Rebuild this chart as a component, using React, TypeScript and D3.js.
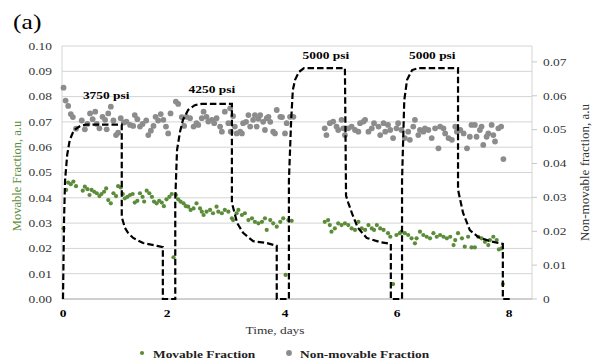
import React from "react";
import * as d3 from "d3";

// pressure step line, [day, psi]
const pressure = [
  [0, 0], [0.02, 1710], [0.04, 2570], [0.08, 3110], [0.13, 3440], [0.21, 3650], [0.33, 3740], [0.44, 3770],
  [1.13, 3770], [1.13, 1770], [1.19, 1540], [1.25, 1430], [1.35, 1320], [1.54, 1210], [1.81, 1150], [1.92, 1120],
  [1.92, 0], [2.14, 0], [2.14, 2140], [2.17, 3220], [2.22, 3610], [2.27, 3870], [2.36, 4090], [2.47, 4190], [2.59, 4220],
  [3.1, 4220], [3.1, 2080], [3.19, 1640], [3.29, 1430], [3.46, 1250], [3.69, 1210], [3.86, 1150],
  [3.86, 0], [4.07, 0], [4.07, 2570], [4.11, 3870], [4.14, 4520], [4.18, 4740], [4.25, 4910], [4.34, 4990],
  [5.07, 4990], [5.09, 2230], [5.13, 2080], [5.2, 1840], [5.3, 1540], [5.46, 1320], [5.7, 1230], [5.89, 1190],
  [5.89, 0], [6.09, 0], [6.09, 2570], [6.13, 4300], [6.18, 4740], [6.27, 4950], [6.38, 4990],
  [7.09, 4990], [7.09, 2360], [7.18, 1860], [7.3, 1490], [7.45, 1340], [7.66, 1250], [7.89, 1190],
  [7.89, 0], [8.05, 0],
];

// movable fraction (left axis), [day, value]
const movable = [
  [0.01, 0.0279], [0.06, 0.0431], [0.1, 0.046], [0.15, 0.0454], [0.2, 0.0464], [0.25, 0.0446], [0.38, 0.0428],
  [0.42, 0.0444], [0.47, 0.0434], [0.51, 0.0411], [0.55, 0.0431], [0.6, 0.0424], [0.65, 0.0418], [0.7, 0.0407],
  [0.74, 0.0415], [0.79, 0.0424], [0.83, 0.0437], [0.87, 0.0391], [0.92, 0.0378], [0.97, 0.0418], [1.02, 0.0407],
  [1.06, 0.0446], [1.11, 0.0441], [1.15, 0.0415], [1.19, 0.0398], [1.24, 0.0404], [1.29, 0.0411], [1.34, 0.0415],
  [1.38, 0.0381], [1.43, 0.0388], [1.48, 0.0418], [1.53, 0.0404], [1.56, 0.0385], [1.61, 0.0428], [1.66, 0.0418],
  [1.71, 0.0404], [1.75, 0.0385], [1.8, 0.0378], [1.85, 0.0388], [1.9, 0.0381], [1.94, 0.0367], [1.99, 0.0394],
  [2.04, 0.0404], [2.08, 0.0415], [2.11, 0.0165], [2.15, 0.0411], [2.19, 0.0394], [2.23, 0.0385], [2.28, 0.0378],
  [2.32, 0.0367], [2.36, 0.0365], [2.4, 0.0352], [2.45, 0.0358], [2.5, 0.0378], [2.56, 0.0358], [2.59, 0.0345],
  [2.62, 0.0332], [2.67, 0.0345], [2.73, 0.0352], [2.78, 0.0339], [2.84, 0.0365], [2.87, 0.0345], [2.93, 0.0339],
  [2.98, 0.0352], [3.04, 0.0345], [3.1, 0.0319], [3.12, 0.0312], [3.18, 0.0339], [3.21, 0.0352], [3.27, 0.0332],
  [3.32, 0.0339], [3.38, 0.0312], [3.44, 0.0319], [3.49, 0.0305], [3.55, 0.0299], [3.61, 0.0305], [3.66, 0.0319],
  [3.69, 0.0273], [3.75, 0.0312], [3.8, 0.0299], [3.86, 0.0286], [3.92, 0.0305], [3.97, 0.0319], [4.01, 0.0095],
  [4.06, 0.0312], [4.12, 0.0309],
  [4.71, 0.0305], [4.77, 0.0312], [4.8, 0.0292], [4.83, 0.0266], [4.89, 0.0279], [4.95, 0.0299], [5.01, 0.0292],
  [5.07, 0.0299], [5.13, 0.0292], [5.19, 0.0279], [5.25, 0.0273], [5.31, 0.0305], [5.37, 0.0279], [5.43, 0.0273],
  [5.49, 0.0292], [5.55, 0.0279], [5.59, 0.0273], [5.64, 0.0292], [5.7, 0.0279], [5.76, 0.0273], [5.84, 0.026],
  [5.88, 0.0246], [5.93, 0.0059], [5.99, 0.0253], [6.05, 0.026], [6.08, 0.0266], [6.14, 0.026], [6.2, 0.0253],
  [6.26, 0.024], [6.32, 0.022], [6.35, 0.024], [6.41, 0.0266], [6.47, 0.0253], [6.53, 0.0246], [6.59, 0.024],
  [6.65, 0.026], [6.71, 0.0246], [6.77, 0.0253], [6.83, 0.0246], [6.89, 0.024], [6.95, 0.0246], [7.01, 0.0213],
  [7.04, 0.0233], [7.09, 0.026], [7.16, 0.024], [7.21, 0.0207], [7.27, 0.0246], [7.33, 0.0204], [7.39, 0.0204],
  [7.45, 0.0246], [7.51, 0.024], [7.57, 0.0226], [7.63, 0.0213], [7.66, 0.0233], [7.72, 0.0246], [7.78, 0.0233],
  [7.82, 0.0196], [7.87, 0.02], [7.89, 0.0059],
];

// non-movable fraction (right axis), [day, value]
const nonMovable = [
  [0.01, 0.0624], [0.05, 0.0586], [0.1, 0.057], [0.15, 0.0546], [0.19, 0.0537], [0.25, 0.0503], [0.36, 0.0527],
  [0.42, 0.0501], [0.47, 0.0517], [0.52, 0.0548], [0.57, 0.0531], [0.62, 0.0553], [0.65, 0.0517], [0.7, 0.0504],
  [0.76, 0.0538], [0.81, 0.0529], [0.84, 0.0501], [0.87, 0.0548], [0.92, 0.0568], [0.97, 0.0527], [1.02, 0.0484],
  [1.06, 0.0491], [1.11, 0.0534], [1.17, 0.0521], [1.22, 0.0524], [1.29, 0.0514], [1.35, 0.0511], [1.38, 0.0543],
  [1.43, 0.0531], [1.48, 0.0509], [1.53, 0.0517], [1.6, 0.0527], [1.64, 0.0484], [1.69, 0.0497], [1.74, 0.0511],
  [1.78, 0.0538], [1.83, 0.0527], [1.88, 0.0546], [1.93, 0.0529], [1.98, 0.0509], [2.02, 0.0489], [2.06, 0.0548],
  [2.15, 0.0583], [2.19, 0.0576], [2.25, 0.0537], [2.29, 0.0511], [2.33, 0.0538], [2.39, 0.0534], [2.45, 0.0509],
  [2.5, 0.0519], [2.53, 0.0514], [2.59, 0.0534], [2.62, 0.0553], [2.67, 0.0538], [2.7, 0.0524], [2.76, 0.0529],
  [2.8, 0.0519], [2.84, 0.0534], [2.9, 0.0509], [2.93, 0.0494], [2.98, 0.0553], [3.04, 0.0519], [3.07, 0.0563],
  [3.08, 0.0494], [3.12, 0.054], [3.15, 0.0509], [3.18, 0.0489], [3.24, 0.0494], [3.27, 0.0489], [3.29, 0.0519],
  [3.34, 0.0523], [3.38, 0.0543], [3.41, 0.0509], [3.46, 0.0529], [3.49, 0.0543], [3.52, 0.0509], [3.55, 0.0532],
  [3.58, 0.0543], [3.63, 0.0523], [3.66, 0.0499], [3.69, 0.0534], [3.72, 0.0538], [3.75, 0.0523], [3.8, 0.0494],
  [3.83, 0.0489], [3.86, 0.0558], [3.92, 0.0538], [3.95, 0.0537], [4.0, 0.0489], [4.03, 0.0519], [4.09, 0.0538],
  [4.15, 0.0538],
  [4.71, 0.0504], [4.74, 0.0484], [4.8, 0.0519], [4.86, 0.0524], [4.92, 0.0509], [4.95, 0.0499], [5.01, 0.0529],
  [5.04, 0.0504], [5.07, 0.0484], [5.13, 0.0504], [5.19, 0.0509], [5.25, 0.0499], [5.31, 0.0494], [5.34, 0.0519],
  [5.4, 0.0524], [5.43, 0.0529], [5.49, 0.0494], [5.55, 0.0504], [5.59, 0.0519], [5.67, 0.0509], [5.7, 0.0484],
  [5.76, 0.0519], [5.79, 0.0494], [5.84, 0.0514], [5.88, 0.0499], [5.93, 0.0475], [5.99, 0.0504], [6.02, 0.0519],
  [6.08, 0.0499], [6.14, 0.0475], [6.2, 0.0494], [6.23, 0.047], [6.29, 0.0509], [6.32, 0.0529], [6.38, 0.0484],
  [6.41, 0.0499], [6.47, 0.0494], [6.5, 0.0504], [6.56, 0.0499], [6.62, 0.0475], [6.68, 0.0504], [6.74, 0.0445],
  [6.77, 0.0509], [6.83, 0.0504], [6.86, 0.0489], [6.92, 0.0475], [6.98, 0.047], [7.04, 0.0509], [7.07, 0.0494],
  [7.13, 0.0499], [7.19, 0.0489], [7.25, 0.0445], [7.3, 0.0479], [7.33, 0.0514], [7.39, 0.0514], [7.42, 0.0479],
  [7.48, 0.0499], [7.51, 0.0509], [7.54, 0.0455], [7.6, 0.0479], [7.63, 0.0489], [7.69, 0.0514], [7.72, 0.0484],
  [7.75, 0.0465], [7.81, 0.0504], [7.86, 0.0509], [7.9, 0.0413],
];

const leftTicks = [0, 0.01, 0.02, 0.03, 0.04, 0.05, 0.06, 0.07, 0.08, 0.09, 0.1];
const rightTicks = [0, 0.01, 0.02, 0.03, 0.04, 0.05, 0.06, 0.07];
const dayTicks = [0, 2, 4, 6, 8];
const pressureLabels = [
  { text: "3750 psi", day: 0.83, psi: 4320 },
  { text: "4250 psi", day: 2.76, psi: 4450 },
  { text: "5000 psi", day: 4.73, psi: 5180 },
  { text: "5000 psi", day: 6.63, psi: 5180 },
];

const FONT = "'Liberation Serif', 'Times New Roman', 'DejaVu Serif', serif";
const GREEN = "#5b8c3a";
const GRAY = "#8c8c8c";
const SX = 1.22; // the picture is stretched sideways

const Txt = ({ x, y, size, anchor = "start", weight = "normal", fill = "#333", children }: any) => (
  <text
    transform={`translate(${x},${y}) scale(${SX},1)`}
    fontSize={size}
    textAnchor={anchor}
    fontWeight={weight}
    fill={fill}
  >
    {children}
  </text>
);

export default function App() {
  const width = 595;
  const height = 360;
  const left = 62, right = 532, top = 46, bottom = 299;

  // the day labels in the original are not evenly spaced
  const x = d3.scaleLinear().domain([0, 2, 4, 6, 8]).range([63, 167, 285, 397, 509]);
  const yL = d3.scaleLinear().domain([0, 0.1]).range([bottom, top]);
  const yR = d3.scaleLinear().domain([0, 0.0747]).range([bottom, top]);
  const yP = d3.scaleLinear().domain([0, 5470]).range([bottom, top]);

  const fmt = d3.format(".2f");
  const line = d3
    .line<number[]>()
    .x((d) => x(d[0]))
    .y((d) => yP(d[1]));

  return (
    <svg
      width={width}
      height={height}
      style={{ position: "absolute", left: 0, top: 0, background: "#fff", fontFamily: FONT }}
    >
      <Txt x={13} y={29} size={21} fill="#000">(a)</Txt>

      {/* grid */}
      {leftTicks.filter((t) => t > 0).map((t) => (
        <line key={t} x1={left} x2={right} y1={yL(t)} y2={yL(t)} stroke="#d4d4d4" strokeWidth={1} />
      ))}
      <line x1={left} x2={left} y1={top} y2={bottom} stroke="#d4d4d4" />
      <line x1={right} x2={right} y1={top} y2={bottom} stroke="#d4d4d4" />
      <line x1={left} x2={right} y1={bottom} y2={bottom} stroke="#a0a0a0" />

      {/* left axis */}
      {leftTicks.map((t) => (
        <Txt key={t} x={52} y={yL(t) + 3.8} size={11} anchor="end">
          {fmt(t)}
        </Txt>
      ))}
      <text
        transform={`translate(21,176) rotate(-90)`}
        textAnchor="middle"
        fontSize={12.5}
        fill={GREEN}
      >
        Movable Fraction, a.u
      </text>

      {/* right axis */}
      {rightTicks.map((t) => (
        <g key={t}>
          <line x1={right} x2={right + 5} y1={yR(t)} y2={yR(t)} stroke="#c8c8c8" />
          <Txt x={543} y={yR(t) + 3.8} size={11}>
            {t === 0 ? "0" : fmt(t)}
          </Txt>
        </g>
      ))}
      <text
        transform={`translate(589,172.5) rotate(-90)`}
        textAnchor="middle"
        fontSize={13}
        fill="#333"
      >
        Non-movable fraction, a.u
      </text>

      {/* x axis */}
      {dayTicks.map((t) => (
        <Txt key={t} x={x(t)} y={317} size={11} anchor="middle" weight="bold" fill="#000">
          {t}
        </Txt>
      ))}
      <Txt x={275} y={334} size={11} anchor="middle">Time, days</Txt>

      {/* data */}
      {nonMovable.map((d, i) => (
        <circle key={"n" + i} cx={x(d[0])} cy={yR(d[1])} r={2.9} fill={GRAY} />
      ))}
      {movable.map((d, i) => (
        <circle key={"m" + i} cx={x(d[0])} cy={yL(d[1])} r={2.1} fill={GREEN} />
      ))}
      <path d={line(pressure) ?? ""} fill="none" stroke="#000" strokeWidth={2.2} strokeDasharray="6.5 3" />

      {pressureLabels.map((l, i) => (
        <Txt key={i} x={x(l.day)} y={yP(l.psi)} size={11} anchor="middle" weight="bold" fill="#000">
          {l.text}
        </Txt>
      ))}

      {/* legend */}
      <circle cx={142} cy={353} r={2.1} fill={GREEN} />
      <Txt x={153} y={357.5} size={11} weight="bold" fill="#222">Movable Fraction</Txt>
      <circle cx={289} cy={353} r={2.9} fill={GRAY} />
      <Txt x={300} y={357.5} size={11} weight="bold" fill="#222">Non-movable Fraction</Txt>
    </svg>
  );
}
